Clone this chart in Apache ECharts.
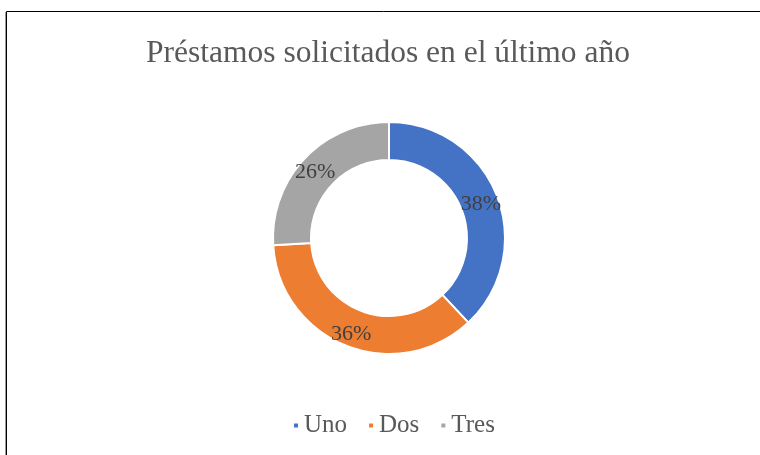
<!DOCTYPE html>
<html>
<head>
<meta charset="utf-8">
<script src="https://cdn.jsdelivr.net/npm/echarts@6/dist/echarts.min.js"></script>
<style>
  html, body { margin: 0; padding: 0; background: #fff; }
  #main { width: 760px; height: 455px; }
</style>
</head>
<body>
<div id="main"></div>
<script>
// datos del gráfico
var categories = ['Uno', 'Dos', 'Tres'];
var values = [38, 36, 26];
var colors = ['#4472C4', '#ED7D31', '#A5A5A5'];

var myChart = echarts.init(document.getElementById('main'));

var option = {
  animation: false,
  color: colors,
  title: {
    text: 'Préstamos solicitados en el último año',
    left: 383,
    textAlign: 'center',
    top: 33,
    textStyle: {
      fontFamily: 'Liberation Serif',
      fontSize: 31.5,
      fontWeight: 'normal',
      color: '#595959'
    }
  },
  legend: {
    data: categories,
    top: 413,
    left: 292,
    padding: 0,
    icon: 'rect',
    itemWidth: 6,
    itemHeight: 6,
    itemGap: 20,
    textStyle: {
      fontFamily: 'Liberation Serif',
      fontSize: 25,
      color: '#595959'
    }
  },
  graphic: [{
    type: 'rect',
    shape: { x: 6.5, y: 11.5, width: 800, height: 500 },
    style: { fill: 'none', stroke: '#000', lineWidth: 1 }
  }, {
    type: 'line',
    shape: { x1: 5.5, y1: 12, x2: 5.5, y2: 460 },
    style: { stroke: '#999', lineWidth: 1 }
  }],
  series: [{
    type: 'pie',
    center: [389, 238],
    radius: [78, 116],
    startAngle: 90,
    clockwise: true,
    itemStyle: { borderColor: '#fff', borderWidth: 2 },
    label: {
      position: 'inside',
      formatter: '{c}%',
      fontFamily: 'Liberation Serif',
      fontSize: 22,
      color: '#404040',
      offset: [-1, 3]
    },
    labelLine: { show: false },
    data: categories.map(function (c, i) {
      return { name: c, value: values[i] };
    })
  }]
};

myChart.setOption(option);
</script>
</body>
</html>
